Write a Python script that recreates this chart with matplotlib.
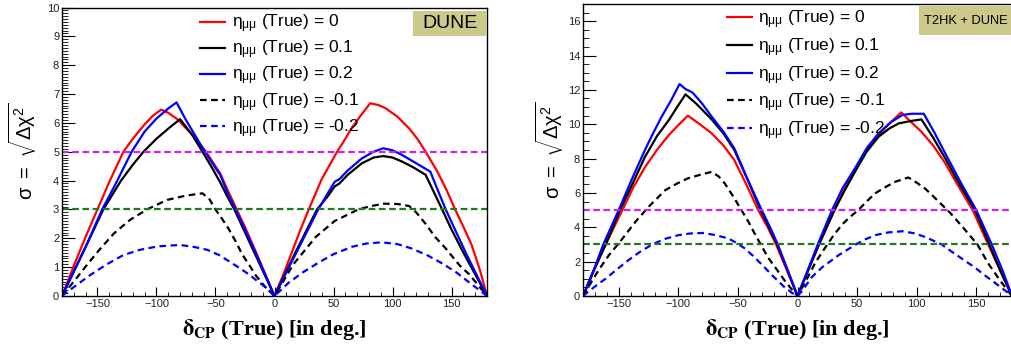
import matplotlib
matplotlib.use("Agg")
import matplotlib.pyplot as plt
from matplotlib.patches import Rectangle
from matplotlib.ticker import MultipleLocator

plt.rcParams['font.family'] = ['Liberation Sans', 'DejaVu Sans']
plt.rcParams['mathtext.fontset'] = 'custom'
plt.rcParams['mathtext.rm'] = 'Liberation Sans'
plt.rcParams['mathtext.it'] = 'Liberation Sans:italic'
plt.rcParams['mathtext.bf'] = 'Liberation Sans:bold'
plt.rcParams['mathtext.default'] = 'regular'

# ---------------- DUNE panel data ----------------
dune_eta0_x = [-180, -170, -160, -150, -140, -128, -120, -110, -103, -96, -90, -82, -70, -58, -46, -40,
               -32, -24, -16, -8, 0,
               8, 15, 22, 29, 40, 53, 60, 65, 72, 81, 88, 94, 104, 114, 121, 128, 138, 146, 153, 160,
               167, 174, 180]
dune_eta0_y = [0, 1.05, 2.05, 3.0, 3.95, 5.0, 5.45, 5.95, 6.25, 6.46, 6.35, 6.12, 5.6, 5.0, 4.25, 3.7,
               3.0, 2.3, 1.55, 0.78, 0,
               0.8, 1.55, 2.3, 3.0, 4.05, 5.0, 5.45, 5.8, 6.2, 6.68, 6.62, 6.51, 6.22, 5.81, 5.45, 5.0,
               4.31, 3.65, 3.0, 2.4, 1.77, 0.9, 0]

dune_eta01_x = [-180, -160, -145, -130, -120, -111, -100, -90, -80, -70, -61, -53, -46, -40, -34, -17, 0,
                17, 36, 45, 51, 55, 62, 74, 84, 92, 100, 108, 118, 128, 135, 142, 150, 160, 170, 180]
dune_eta01_y = [0, 1.7, 3.0, 4.0, 4.55, 5.0, 5.45, 5.8, 6.13, 5.6, 5.0, 4.45, 3.94, 3.45, 3.0, 1.5, 0,
                1.45, 3.0, 3.45, 3.8, 3.9, 4.2, 4.6, 4.8, 4.85, 4.8, 4.66, 4.45, 4.2, 3.6, 3.0, 2.3,
                1.5, 0.75, 0]

dune_eta02_x = [-180, -160, -146, -135, -121, -110, -100, -90, -83, -75, -67, -60, -49, -46, -40, -33,
                -16, 0,
                16, 37, 45, 51, 55, 62, 74, 84, 92, 100, 108, 118, 125, 132, 138, 145, 162, 180]
dune_eta02_y = [0, 1.7, 3.0, 3.85, 5.0, 5.7, 6.15, 6.5, 6.71, 6.1, 5.55, 5.07, 4.37, 4.2, 3.6, 3.0,
                1.5, 0,
                1.3, 3.0, 3.55, 3.96, 4.05, 4.35, 4.77, 5.0, 5.12, 5.05, 4.89, 4.65, 4.48, 4.31, 3.7,
                3.0, 1.5, 0]

dune_etam01_x = [-180, -170, -160, -148, -136, -122, -108, -91, -75, -61, -55, -50, -44, -39, -33, -27,
                 -21, -16, -8, 0,
                 8, 16, 27, 35, 51, 71, 82, 93, 104, 114, 120, 128, 136, 145, 157, 165, 180]
dune_etam01_y = [0, 0.5, 1.02, 1.62, 2.17, 2.65, 3.0, 3.33, 3.48, 3.56, 3.35, 3.0, 2.65, 2.34, 1.9, 1.42,
                 1.05, 0.72, 0.32, 0,
                 0.55, 1.1, 1.65, 2.05, 2.6, 3.0, 3.12, 3.2, 3.19, 3.12, 2.9, 2.5, 2.05, 1.65, 1.05,
                 0.75, 0]

dune_etam02_x = [-180, -168, -156, -142, -128, -114, -99, -80, -68, -57, -47, -38, -30, -21, -14, -8, 0,
                 12, 24, 37, 50, 66, 78, 91, 104, 116, 130, 142, 154, 164, 172, 180]
dune_etam02_y = [0, 0.37, 0.73, 1.1, 1.42, 1.6, 1.72, 1.77, 1.7, 1.6, 1.42, 1.19, 0.98, 0.73, 0.5, 0.32, 0,
                 0.46, 0.82, 1.15, 1.45, 1.71, 1.82, 1.86, 1.8, 1.65, 1.4, 1.13, 0.82, 0.5, 0.25, 0]

# ---------------- T2HK + DUNE panel data ----------------
comb_eta0_x = [-180, -170, -161, -147, -138, -128, -118, -108, -100, -92, -82, -72, -62, -53, -43, -33,
               -25, -18, -9, 0,
               9, 18, 31, 40, 49, 58, 68, 78, 87, 95, 104, 114, 124, 135, 147, 160, 170, 180]
comb_eta0_y = [0, 1.6, 3.0, 5.0, 6.3, 7.5, 8.5, 9.37, 9.95, 10.5, 10.0, 9.47, 8.75, 7.91, 6.5, 5.0,
               4.0, 3.0, 1.5, 0,
               1.5, 3.0, 5.0, 6.3, 7.43, 8.5, 9.37, 10.1, 10.69, 10.15, 9.56, 8.75, 7.72, 6.4, 5.0,
               3.0, 1.5, 0]

comb_eta01_x = [-180, -171, -161, -149, -138, -128, -118, -108, -101, -94, -85, -72, -62, -53, -42, -31,
                -24, -17, -8, 0,
                9, 18, 31, 40, 49, 58, 68, 77, 85, 96, 104, 114, 124, 136, 149, 161, 170, 180]
comb_eta01_y = [0, 1.5, 3.0, 5.0, 6.6, 8.1, 9.3, 10.24, 11.0, 11.74, 11.2, 10.28, 9.45, 8.5, 6.8, 5.0,
                4.0, 3.0, 1.45, 0,
                1.5, 3.0, 5.0, 6.2, 7.33, 8.4, 9.27, 9.75, 10.05, 10.2, 10.28, 9.2, 8.01, 6.5, 5.0,
                3.0, 1.5, 0]

comb_eta02_x = [-180, -171, -163, -150, -139, -128, -121, -114, -106, -99, -94, -88, -80, -72, -62, -53,
                -42, -30, -23, -16.5, -8, 0,
                8, 17, 29, 38, 49, 58, 68, 78, 88, 96, 106, 115, 124, 137, 150, 163, 172, 180]
comb_eta02_y = [0, 1.5, 3.0, 5.0, 6.8, 8.5, 9.5, 10.44, 11.4, 12.34, 12.05, 11.84, 11.2, 10.44, 9.55,
                8.59, 6.8, 5.0, 4.0, 3.0, 1.45, 0,
                1.4, 3.0, 5.0, 6.3, 7.52, 8.6, 9.47, 10.1, 10.54, 10.61, 10.61, 9.5, 8.3, 6.6, 5.0,
                3.0, 1.5, 0]

comb_etam01_x = [-180, -167, -158, -149, -136, -125, -111, -101, -92, -82, -72, -66, -61, -54, -47, -41,
                 -36, -30, -25, -18, -11, -5, 0,
                 8, 15, 25, 31, 38, 44, 51, 58, 65, 74, 82, 93, 100, 107, 114, 120, 128, 140, 151, 160,
                 170, 180]
comb_etam01_y = [0, 1.5, 2.4, 3.15, 4.32, 5.19, 6.16, 6.55, 6.85, 7.05, 7.23, 6.95, 6.55, 5.8, 5.0, 4.3,
                 3.64, 2.9, 2.27, 1.6, 0.92, 0.4, 0,
                 1.0, 1.95, 3.0, 3.6, 4.2, 4.6, 5.0, 5.5, 5.97, 6.35, 6.65, 6.9, 6.6, 6.26, 5.8, 5.39,
                 4.85, 3.9, 3.0, 1.9, 0.9, 0]

comb_etam02_x = [-180, -171, -161, -151, -142, -132, -122, -111, -100, -90, -80, -69, -58, -51, -44, -36,
                 -28, -20, -11, -5, 0,
                 4, 12, 21, 35, 49, 57, 65, 76, 88, 98, 107, 114, 121, 130, 140, 149, 157, 166, 174, 180]
comb_etam02_y = [0, 0.5, 1.01, 1.58, 2.08, 2.58, 3.0, 3.33, 3.54, 3.64, 3.67, 3.55, 3.35, 3.08, 2.76, 2.25,
                 1.69, 1.12, 0.52, 0.2, 0,
                 0.3, 1.1, 1.69, 2.4, 3.0, 3.3, 3.54, 3.7, 3.77, 3.65, 3.44, 3.22, 3.0, 2.55, 2.08,
                 1.65, 1.21, 0.75, 0.33, 0]

labels = [r'$\eta_{\mu\mu}$ (True) = 0', r'$\eta_{\mu\mu}$ (True) = 0.1',
          r'$\eta_{\mu\mu}$ (True) = 0.2', r'$\eta_{\mu\mu}$ (True) = -0.1',
          r'$\eta_{\mu\mu}$ (True) = -0.2']
sigma_levels = [5, 3]
panel_titles = ['DUNE', 'T2HK + DUNE']
x_ticks = [-150, -100, -50, 0, 50, 100, 150]

styles = [dict(color='#ff0000', ls='-'), dict(color='black', ls='-'),
          dict(color='#0000ff', ls='-'), dict(color='black', ls=(0, (3, 2))),
          dict(color='#0000ff', ls=(0, (3, 2)))]
level_colors = ['#cc22ee', '#1f7a1f']

W, H = 1011, 349
fig = plt.figure(figsize=(W / 100, H / 100), dpi=100)

def px_axes(l, r, t, b):
    return fig.add_axes([l / W, 1 - b / H, (r - l) / W, (b - t) / H])

ax1 = px_axes(62, 487, 7.5, 296)
ax2 = px_axes(583, 1012, 4, 296)

panels = [
    (ax1, [(dune_eta0_x, dune_eta0_y), (dune_eta01_x, dune_eta01_y), (dune_eta02_x, dune_eta02_y),
           (dune_etam01_x, dune_etam01_y), (dune_etam02_x, dune_etam02_y)], 10, 1, 0.1,
     (0.826, 0.901, 0.174, 0.088), (0.913, 0.946), 14, (0.325, 0.982), 0.2, 6),
    (ax2, [(comb_eta0_x, comb_eta0_y), (comb_eta01_x, comb_eta01_y), (comb_eta02_x, comb_eta02_y),
           (comb_etam01_x, comb_etam01_y), (comb_etam02_x, comb_etam02_y)], 17, 2, 0.5,
     (0.784, 0.894, 0.22, 0.099), (0.892, 0.942), 9.3, (0.335, 0.984), 0.29, 1),
]

for i, (ax, curves, ymax, ymaj, ymin, box, tpos, tsize, lpos, lspace, ylpad) in enumerate(panels):
    handles = []
    for (xs, ys), st, lab in zip(curves, styles, labels):
        h, = ax.plot(xs, ys, color=st['color'], linestyle=st['ls'], lw=1.6, label=lab)
        handles.append(h)
    for lvl, c in zip(sigma_levels, level_colors):
        ax.axhline(lvl, color=c, lw=1.6, linestyle=(0, (3, 1.6)))
    ax.set_xlim(-180, 180)
    ax.set_ylim(0, ymax)
    ax.set_xticks(x_ticks)
    ax.xaxis.set_minor_locator(MultipleLocator(10))
    ax.yaxis.set_major_locator(MultipleLocator(ymaj))
    ax.yaxis.set_minor_locator(MultipleLocator(ymin))
    ax.set_xticklabels([str(v).replace('-', '\u2212') for v in x_ticks])
    ax.tick_params(which='both', direction='in', top=False, right=False,
                   labelsize=8, colors='black', labelcolor='#222222')
    ax.tick_params(axis='y', which='major', length=9.2, pad=2)
    ax.tick_params(axis='y', which='minor', length=4.6)
    ax.tick_params(axis='x', which='major', length=6.2, pad=2)
    ax.tick_params(axis='x', which='minor', length=3.1)
    for sp in ax.spines.values():
        sp.set_linewidth(1.0)
    ax.add_patch(Rectangle((box[0], box[1]), box[2], box[3], transform=ax.transAxes,
                           facecolor='#cdc98a', edgecolor='none', zorder=5, clip_on=False))
    ax.text(tpos[0], tpos[1], panel_titles[i], transform=ax.transAxes, fontsize=tsize,
            ha='center', va='center', zorder=6)
    ax.legend(handles=handles, loc='upper left', bbox_to_anchor=lpos, frameon=False,
              fontsize=12.5, handlelength=1.44, handletextpad=0.39,
              labelspacing=lspace, borderpad=0, borderaxespad=0)
    ax.set_xlabel(r'$\mathbf{\delta_{CP}}$ (True) [in deg.]', fontsize=16,
                  fontfamily='Liberation Serif', fontweight='bold', math_fontfamily='stix',
                  labelpad=6)
    ax.set_ylabel(r'$\sigma\ =\ \sqrt{\Delta\chi^{2}}$', fontsize=14.5, labelpad=ylpad)

fig.savefig('out.png', dpi=100)
